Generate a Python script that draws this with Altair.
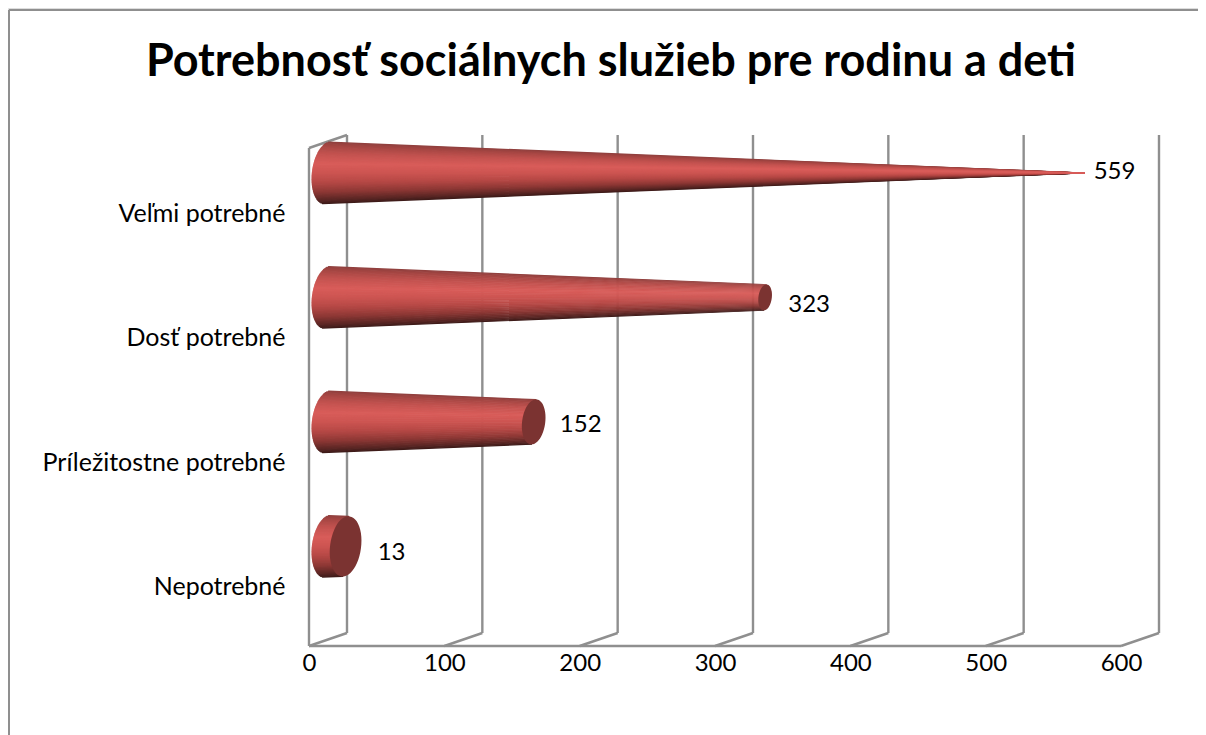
import altair as alt
import pandas as pd
import math

# --- data ---
categories = ["Nepotrebné", "Príležitostne potrebné", "Dosť potrebné", "Veľmi potrebné"]
values = [13, 152, 323, 559]
axis_ticks = [0, 100, 200, 300, 400, 500, 600]
title_text = "Potrebnosť sociálnych služieb pre rodinu a deti"

# --- layout ---
W, H = 1190, 727
FONT = "Lato"
GRID = "#8f8f8f"
CAP = "#7b3331"
X0, X600 = 301, 1113      # px in chart for value 0 / 600 on the front plane
Y0, Y4 = 638, 140         # px in chart for floor / top of the front plane
KX = (X600 - X0) / 600
KY = (Y0 - Y4) / 4
DEPTH_X, DEPTH_Y = 38 / KX, 13 / KY
BASE_U = DEPTH_X / 2      # cones stand mid-depth
R0 = 31.0                 # base radius in px
STRIPS = 80
CONE_P = [0.8, 1.8, 2.8, 3.8]
LABEL_P = 0.475
LABEL_OFFS = [(46, 6.5), (47, 3), (44, 7.5), (30, -1)]
shade = [(-1, "#8e3f3d"), (-0.85, "#a84744"), (-0.6, "#c45350"), (-0.3, "#d85c59"), (0.0, "#cc5451"),
         (0.3, "#b54845"), (0.6, "#8e3835"), (0.85, "#5e2725"), (1, "#3a1a18")]


def hex2(c):
    return [int(c[i:i + 2], 16) for i in (1, 3, 5)]


def colour(s):
    for (a, ca), (b, cb) in zip(shade, shade[1:]):
        if a <= s <= b:
            t = (s - a) / (b - a)
            rgb = [round(x + (y - x) * t) for x, y in zip(hex2(ca), hex2(cb))]
            return "#%02x%02x%02x" % tuple(rgb)
    return shade[-1][1]


x_scale = alt.Scale(domain=[0, 600], range=[X0, X600])
y_scale = alt.Scale(domain=[0, 4], range=[Y0, Y4])
X = lambda f, **k: alt.X(f, type="quantitative", scale=x_scale, **k)
Y = lambda f, **k: alt.Y(f, type="quantitative", scale=y_scale, **k)

# --- walls ---
segs = []
for v in axis_ticks:
    segs.append(dict(x=v + DEPTH_X, y=DEPTH_Y, x2=v + DEPTH_X, y2=4 + DEPTH_Y))   # back grid line
    segs.append(dict(x=v, y=0, x2=v + DEPTH_X, y2=DEPTH_Y))                       # floor diagonal
segs.append(dict(x=0, y=0, x2=600, y2=0))
segs.append(dict(x=0, y=0, x2=0, y2=4))
segs.append(dict(x=0, y=4, x2=DEPTH_X, y2=4 + DEPTH_Y))
walls = alt.Chart(pd.DataFrame(segs)).mark_rule(color=GRID, strokeWidth=2.4).encode(
    x=X("x", axis=alt.Axis(values=axis_ticks, title=None, domain=False, ticks=False, grid=False,
                           labelFont=FONT, labelFontSize=24, labelColor="#000000", labelFlush=False,
                           labelPadding=5, offset=Y0 - H)),
    y=Y("y", axis=alt.Axis(values=[i + LABEL_P for i in range(4)], title=None, domain=False, ticks=False,
                           grid=False, labelFont=FONT, labelFontSize=25, labelColor="#000000", labelPadding=0,
                           labelLimit=400,
                           labelExpr="%s[floor(datum.value)]" % categories, offset=-277)),
    x2="x2", y2="y2",
)

# --- cones: brightest strips are drawn last so the seams stay hidden ---
strip_s = sorted((-1 + (i + 0.5) * 2 / STRIPS for i in range(STRIPS)), key=lambda s: -abs(s + 0.3))
rows, caps = [], []
for cat, v, p in zip(categories, values, CONE_P):
    re = R0 * (1 - v / max(values))
    for i, s in enumerate(strip_s):
        px = -0.5 * R0 * math.sqrt(1 - s * s) - 0.1 * R0 * s
        rows.append(dict(id=f"{cat}{i:02d}", o=0, u=BASE_U + px / KX, p=p - R0 * s / KY,
                         w=2 * R0 / STRIPS * 2, c=colour(s)))
        rows.append(dict(id=f"{cat}{i:02d}", o=1, u=BASE_U + v - 0.1 * re * s / KX, p=p - re * s / KY,
                         w=2 * re / STRIPS * 2, c=colour(s)))
    if re > 0:
        caps.append(dict(u=BASE_U + v, p=p, size=(2 * re) ** 2))

bodies = alt.Chart(pd.DataFrame(rows)).mark_trail().encode(
    x=X("u"), y=Y("p"),
    size=alt.Size("w:Q", scale=None, legend=None),
    color=alt.Color("c:N", scale=None, legend=None),
    detail="id:N", order="o:Q",
)
ELLIPSE = "M0.132,-0.991A0.5,1,7.6,1,1,-0.132,0.991A0.5,1,7.6,1,1,0.132,-0.991Z"
end_caps = alt.Chart(pd.DataFrame(caps)).mark_point(shape=ELLIPSE, filled=True, opacity=1, color=CAP).encode(
    x=X("u"), y=Y("p"), size=alt.Size("size:Q", scale=None, legend=None),
)

# --- value labels ---
labs = [dict(u=BASE_U + v + dx / KX, p=p - dy / KY, t=str(v))
        for v, p, (dx, dy) in zip(values, CONE_P, LABEL_OFFS)]
texts = alt.Chart(pd.DataFrame(labs)).mark_text(font=FONT, fontSize=24, color="#000000").encode(
    x=X("u"), y=Y("p"), text="t:N",
)

# --- frame: only top and left edges are visible ---
frame = alt.Chart(pd.DataFrame(dict(a=[0]))).mark_rule(color=GRID, strokeWidth=2).encode(
    x=alt.value(1), y=alt.value(2), x2=alt.value(W), y2=alt.value(2))
frame2 = alt.Chart(pd.DataFrame(dict(a=[0]))).mark_rule(color=GRID, strokeWidth=2).encode(
    x=alt.value(1), y=alt.value(2), x2=alt.value(1), y2=alt.value(H))

chart = alt.layer(frame, frame2, walls, bodies, end_caps, texts).resolve_scale(
    x="shared", y="shared"
).properties(
    width=W, height=H, padding=0,
    autosize=alt.AutoSizeParams(type="none"),
    title=alt.TitleParams(title_text, font=FONT, fontSize=45, fontWeight="bold", color="#000000",
                          anchor="middle", frame="group", offset=-77, dx=8),
).configure_view(stroke=None).configure(background="white")

chart.save("out.html", embed_options={"renderer": "svg", "actions": False})
